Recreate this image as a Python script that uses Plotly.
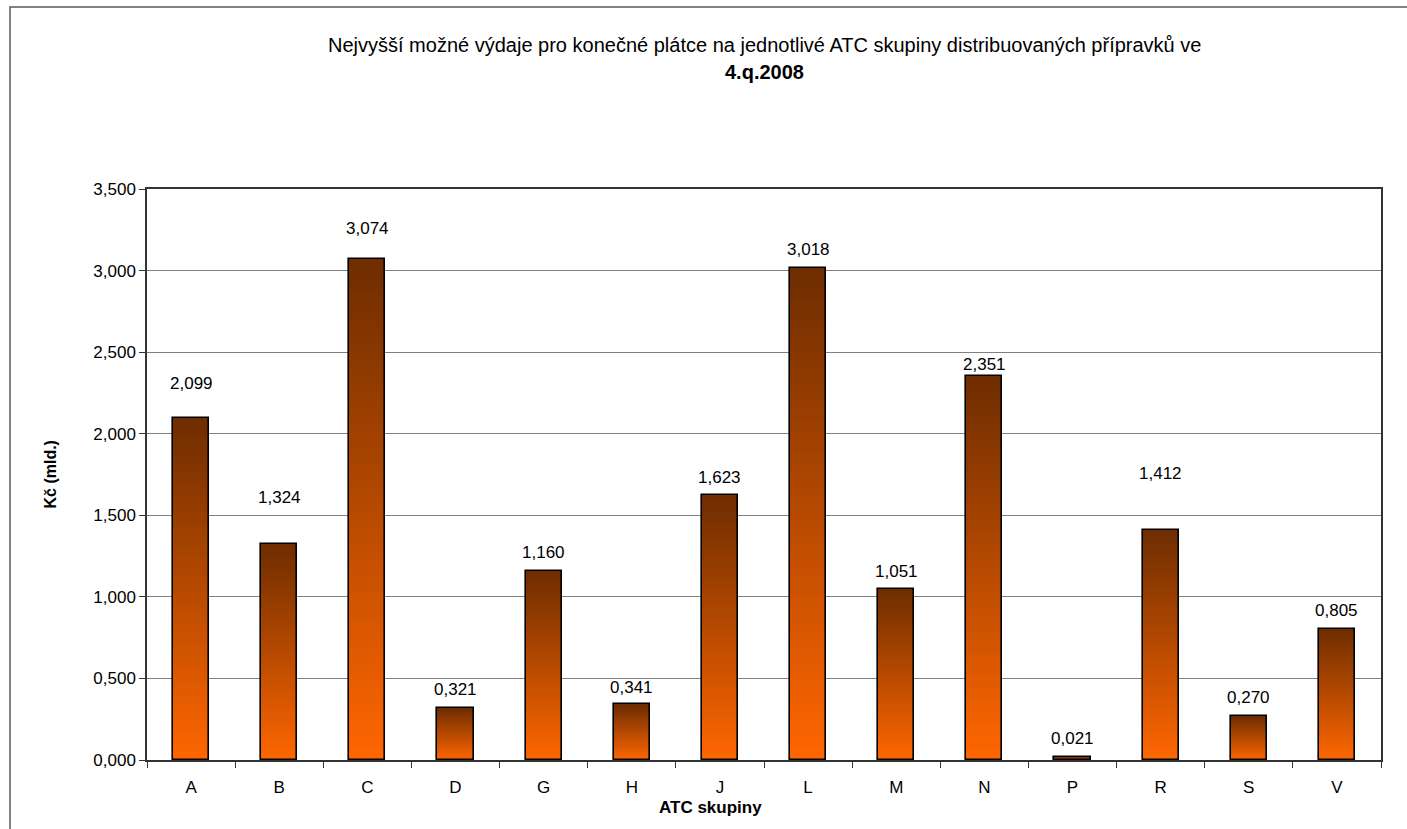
import plotly.graph_objects as go

# ATC groups and maximum possible expenditure (bn CZK)
categories = ["A", "B", "C", "D", "G", "H", "J", "L", "M", "N", "P", "R", "S", "V"]
values = [2.099, 1.324, 3.074, 0.321, 1.160, 0.341, 1.623, 3.018, 1.051, 2.351, 0.021, 1.412, 0.270, 0.805]
y_ticks = [0, 0.5, 1.0, 1.5, 2.0, 2.5, 3.0, 3.5]

# vertical lift (px) of each value label above its bar top
label_lift = [34, 47, 30, 18, 18, 17, 18, 18, 17, 12, 18, 56, 18, 18]

W, H = 1407, 829
L, R, T, B = 147, 26, 189, 69
plot_w = W - L - R
plot_h = H - T - B

FONT = "Liberation Sans, Arial, sans-serif"
TOP_RGB = (110, 45, 0)
BOT_RGB = (255, 102, 0)
N_STEPS = 80
BAR_W = 0.41


def mix(t):
    r = round(BOT_RGB[0] + (TOP_RGB[0] - BOT_RGB[0]) * t)
    g = round(BOT_RGB[1] + (TOP_RGB[1] - BOT_RGB[1]) * t)
    b = round(BOT_RGB[2] + (TOP_RGB[2] - BOT_RGB[2]) * t)
    return f"rgb({r},{g},{b})"


fig = go.Figure()

# each bar is filled as a stack of thin slices shading from orange to brown
for k in range(N_STEPS):
    t = (k + 0.5) / N_STEPS
    fig.add_trace(go.Bar(
        x=categories,
        y=[v / N_STEPS * 1.02 for v in values],
        base=[v * k / N_STEPS for v in values],
        width=BAR_W,
        marker=dict(color=mix(t), line=dict(width=0)),
        hoverinfo="skip",
        showlegend=False,
    ))

# outline of every bar
fig.add_trace(go.Bar(
    x=categories,
    y=values,
    width=BAR_W,
    marker=dict(color="rgba(0,0,0,0)", line=dict(color="#000000", width=1.6)),
    showlegend=False,
))

annotations = []
for c, v, lift in zip(categories, values, label_lift):
    annotations.append(dict(
        x=c, y=v, xref="x", yref="y",
        text=f"{v:.3f}".replace(".", ","),
        showarrow=False, yanchor="middle", yshift=lift,
        font=dict(family=FONT, size=17, color="#000000"),
    ))

# title lines
annotations.append(dict(
    x=0.5, y=1 + (T - 45) / plot_h, xref="paper", yref="paper",
    text="Nejvyšší možné výdaje pro konečné plátce na jednotlivé ATC skupiny distribuovaných přípravků ve",
    showarrow=False, xanchor="center", yanchor="middle",
    font=dict(family=FONT, size=20, color="#000000"),
))
annotations.append(dict(
    x=0.5, y=1 + (T - 72) / plot_h, xref="paper", yref="paper",
    text="<b>4.q.2008</b>",
    showarrow=False, xanchor="center", yanchor="middle",
    font=dict(family=FONT, size=20, color="#000000"),
))
# axis titles
annotations.append(dict(
    x=(710 - L) / plot_w, y=-(808 - (T + plot_h)) / plot_h, xref="paper", yref="paper",
    text="<b>ATC skupiny</b>",
    showarrow=False, xanchor="center", yanchor="middle",
    font=dict(family=FONT, size=17, color="#000000"),
))
annotations.append(dict(
    x=(50 - L) / plot_w, y=0.5, xref="paper", yref="paper",
    text="<b>Kč (mld.)</b>", textangle=-90,
    showarrow=False, xanchor="center", yanchor="middle",
    font=dict(family=FONT, size=16, color="#000000"),
))

# outer frame of the chart area
shapes = [dict(
    type="rect", xref="paper", yref="paper",
    x0=(10 - L) / plot_w, x1=(W + 5 - L) / plot_w,
    y0=-(H + 5 - (T + plot_h)) / plot_h, y1=1 + (T - 7) / plot_h,
    line=dict(color="#5a5a5a", width=1.5), fillcolor="rgba(0,0,0,0)", layer="above",
)]

fig.update_layout(
    width=W, height=H,
    margin=dict(l=L, r=R, t=T, b=B, pad=0),
    barmode="overlay",
    bargap=0,
    paper_bgcolor="white",
    plot_bgcolor="white",
    separators=", ",
    annotations=annotations,
    shapes=shapes,
    font=dict(family=FONT, size=17, color="#000000"),
    xaxis=dict(
        type="category",
        range=[-0.5, len(categories) - 0.5],
        tickson="boundaries",
        ticks="outside", ticklen=6, tickcolor="#333333", tickwidth=1,
        showline=True, linecolor="#333333", linewidth=1.5, mirror=True,
        showgrid=False,
        tickfont=dict(family=FONT, size=17, color="#000000"),
        ticklabelstandoff=11,
    ),
    yaxis=dict(
        range=[0, 3.5],
        tickvals=y_ticks,
        tickformat=".3f",
        ticks="outside", ticklen=6, tickcolor="#333333", tickwidth=1,
        showline=True, linecolor="#333333", linewidth=1.5, mirror=True,
        showgrid=True, gridcolor="#808080", gridwidth=1,
        zeroline=False,
        tickfont=dict(family=FONT, size=17, color="#000000"),
    ),
)

fig.write_html("out.html")
